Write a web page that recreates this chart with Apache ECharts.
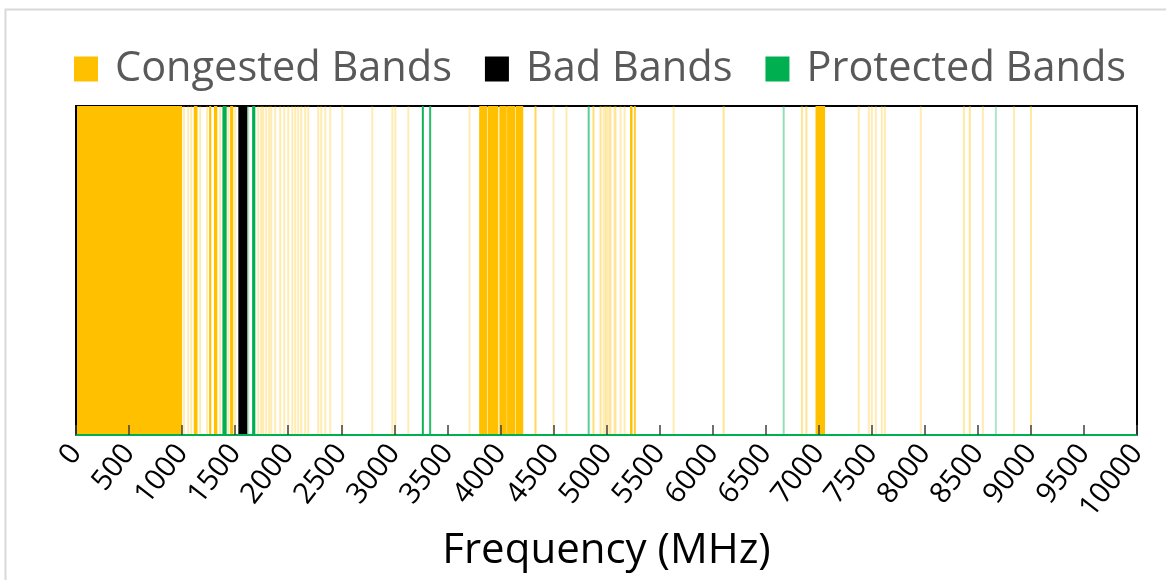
<!DOCTYPE html>
<html><head><meta charset="utf-8">
<script src="https://cdn.jsdelivr.net/npm/echarts@6/dist/echarts.min.js"></script>
<style>html,body{margin:0;padding:0;background:#fff}#c{width:1166px;height:580px}</style>
</head><body><div id="c"></div>
<script>
const seriesNames = ['Congested Bands', 'Bad Bands', 'Protected Bands'];
const tickValues = [0,500,1000,1500,2000,2500,3000,3500,4000,4500,5000,5500,6000,6500,7000,7500,8000,8500,9000,9500,10000];
// [start MHz, end MHz]
const congestedBands = [
  [0,1000],
  [1015,1020],[1055,1060],[1083,1088],[1110,1145],[1168,1173],[1234,1239],[1255,1275],[1300,1332],[1356,1361],
  [1432,1437],[1452,1482],[1498,1503],
  [1715,1720],[1742,1748],[1762,1767],[1790,1795],[1818,1823],[1838,1843],
  [1875,1880],[1922,1928],[1960,1965],[1998,2003],[2036,2041],[2064,2069],[2092,2097],[2120,2126],[2158,2163],[2187,2192],
  [2280,2286],[2309,2314],[2347,2352],[2394,2399],[2507,2512],[2790,2795],[2979,2984],[3007,3012],[3130,3135],
  [3706,3711],
  [3800,3875],[3880,3980],[3990,4060],[4063,4140],[4145,4215],
  [4325,4337],[4498,4503],[4620,4626],
  [4872,4882],[4940,4948],[4970,4975],[4988,4995],[5007,5012],[5026,5031],[5036,5041],[5073,5078],[5083,5088],[5130,5135],[5168,5173],[5222,5245],[5260,5275],
  [5630,5635],[6100,6108],
  [6838,6846],[6880,6888],[6970,7060],
  [7374,7380],[7470,7475],[7498,7503],[7536,7541],[7592,7597],[7621,7626],[7960,7965],
  [8365,8372],[8420,8428],[8545,8550],[8838,8843],[8997,9004]
];
const badBands = [[1530,1615]];
const protectedBands = [[1380,1420],[1621,1626],[1660,1690],[3260,3278],[3330,3346],[4826,4838],[6666,6674],[8667,8673]];

const colors = ['#FFC000', '#000000', '#00B050'];
const font = 'Open Sans';

// narrow bands (under 2 px) are drawn 2 px wide with proportional opacity, like the anti-aliased original
function renderBand(params, api) {
  const a = api.coord([api.value(0), 1]);
  const b = api.coord([api.value(1), 0]);
  const w = b[0] - a[0];
  const minW = 2;
  const drawW = Math.max(w, minW);
  const cx = (a[0] + b[0]) / 2;
  const op = w >= minW ? 1 : Math.max(0.3, Math.min(1, w / minW));
  return {
    type: 'rect',
    shape: { x: cx - drawW / 2, y: a[1], width: drawW, height: b[1] - a[1] },
    style: { fill: api.visual('color'), opacity: op }
  };
}

const chart = echarts.init(document.getElementById('c'), null, { renderer: 'canvas' });
chart.setOption({
  animation: false,
  color: colors,
  graphic: [{
    type: 'rect', left: 3, top: 7, shape: { width: 1200, height: 600 },
    style: { fill: 'none', stroke: '#d9d9d9', lineWidth: 2 }, silent: true
  }],
  legend: {
    top: 48, left: 74, padding: 0,
    icon: 'rect', itemWidth: 24, itemHeight: 25, itemGap: 33,
    textStyle: { fontFamily: font, fontSize: 41.5, color: '#595959', padding: [0, 0, 0, 12] },
    data: seriesNames
  },
  grid: { left: 76, right: 29, top: 106, bottom: 145, show: true, borderColor: '#000', borderWidth: 2,
    containLabel: false, outerBoundsMode: 'none' },
  xAxis: {
    type: 'value', min: 0, max: 10000, interval: 500, z: 10,
    axisLine: { show: true, lineStyle: { color: '#00B050', width: 2 } },
    axisTick: { show: true, inside: true, length: 10, lineStyle: { color: '#404040', width: 1.5 } },
    splitLine: { show: false },
    axisLabel: { rotate: 52, fontFamily: font, fontSize: 29, color: '#000', margin: 13,
      formatter: function (v) { return String(v); }, customValues: tickValues },
    name: 'Frequency (MHz)', nameLocation: 'middle', nameGap: 95,
    nameTextStyle: { fontFamily: font, fontSize: 42, color: '#000' }
  },
  yAxis: {
    type: 'value', min: 0, max: 1, z: 10,
    axisLine: { show: true, lineStyle: { color: '#000', width: 2 } },
    axisTick: { show: false }, axisLabel: { show: false }, splitLine: { show: false }
  },
  series: [
    { name: seriesNames[0], type: 'custom', renderItem: renderBand, encode: { x: [0, 1] }, data: congestedBands },
    { name: seriesNames[1], type: 'custom', renderItem: renderBand, encode: { x: [0, 1] }, data: badBands },
    { name: seriesNames[2], type: 'custom', renderItem: renderBand, encode: { x: [0, 1] }, data: protectedBands }
  ]
});
</script></body></html>
